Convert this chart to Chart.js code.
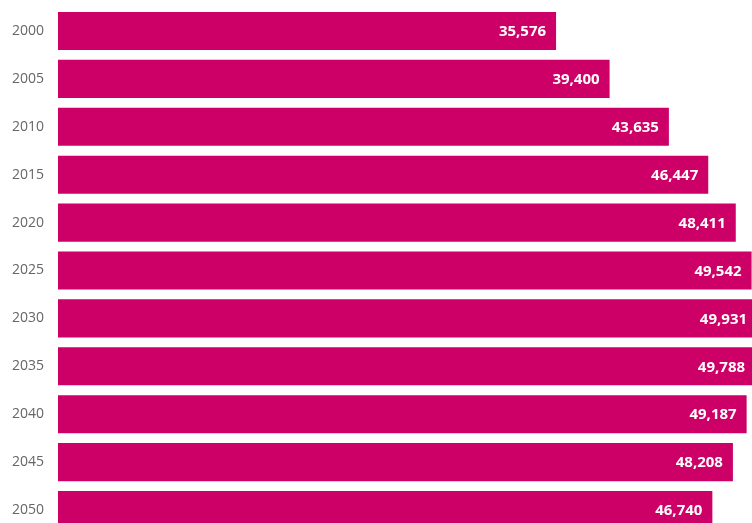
<!DOCTYPE html>
<html>
<head>
<meta charset="utf-8">
<script src="https://cdn.jsdelivr.net/npm/chart.js@4/dist/chart.umd.min.js"></script>
<style>
  html, body { margin: 0; padding: 0; background: #fff; overflow: hidden; width: 752px; height: 523px; }
  #wrap { position: absolute; left: 0; top: 0; width: 800px; height: 545px; }
  canvas { display: block; }
</style>
</head>
<body>
<div id="wrap"><canvas id="myChart" width="800" height="545"></canvas></div>
<script>
'use strict';
let years = ['2000','2005','2010','2015','2020','2025','2030','2035','2040','2045','2050'];
let population = [35576, 39400, 43635, 46447, 48411, 49542, 49931, 49788, 49187, 48208, 46740];
let barColor = '#cc0066';

// white value text at the right end of each bar
let barValues = {
    id: 'barValues',
    afterDatasetsDraw(chart) {
        let ctx = chart.ctx;
        let meta = chart.getDatasetMeta(0);
        ctx.save();
        ctx.fillStyle = '#ffffff';
        ctx.font = 'bold 15px "Open Sans", sans-serif';
        ctx.textAlign = 'right';
        ctx.textBaseline = 'middle';
        meta.data.forEach(function (bar, i) {
            ctx.fillText(population[i].toLocaleString('en-US'), bar.x - 10, bar.y + 1);
        });
        ctx.restore();
    }
};

let ctx = document.getElementById('myChart').getContext('2d');
let myChart = new Chart(ctx, {
    type: 'bar',
    data: {
        labels: years,
        datasets: [{
            data: population,
            backgroundColor: barColor,
            borderWidth: 0,
            categoryPercentage: 1,
            barPercentage: 0.795
        }]
    },
    options: {
        indexAxis: 'y',
        responsive: false,
        animation: false,
        layout: { padding: { top: 7, bottom: 11, left: 12, right: 0 } },
        plugins: {
            legend: { display: false },
            tooltip: { enabled: false }
        },
        scales: {
            x: {
                display: false,
                min: 0,
                max: 53000
            },
            y: {
                grid: { display: false, drawTicks: false },
                border: { display: false },
                ticks: {
                    color: '#666',
                    font: { family: '"Open Sans", sans-serif', size: 14, lineHeight: 1 },
                    padding: 0,
                    crossAlign: 'far'
                },
                afterFit(scale) { scale.width = 46; }
            }
        }
    },
    plugins: [barValues]
});
</script>
</body>
</html>
